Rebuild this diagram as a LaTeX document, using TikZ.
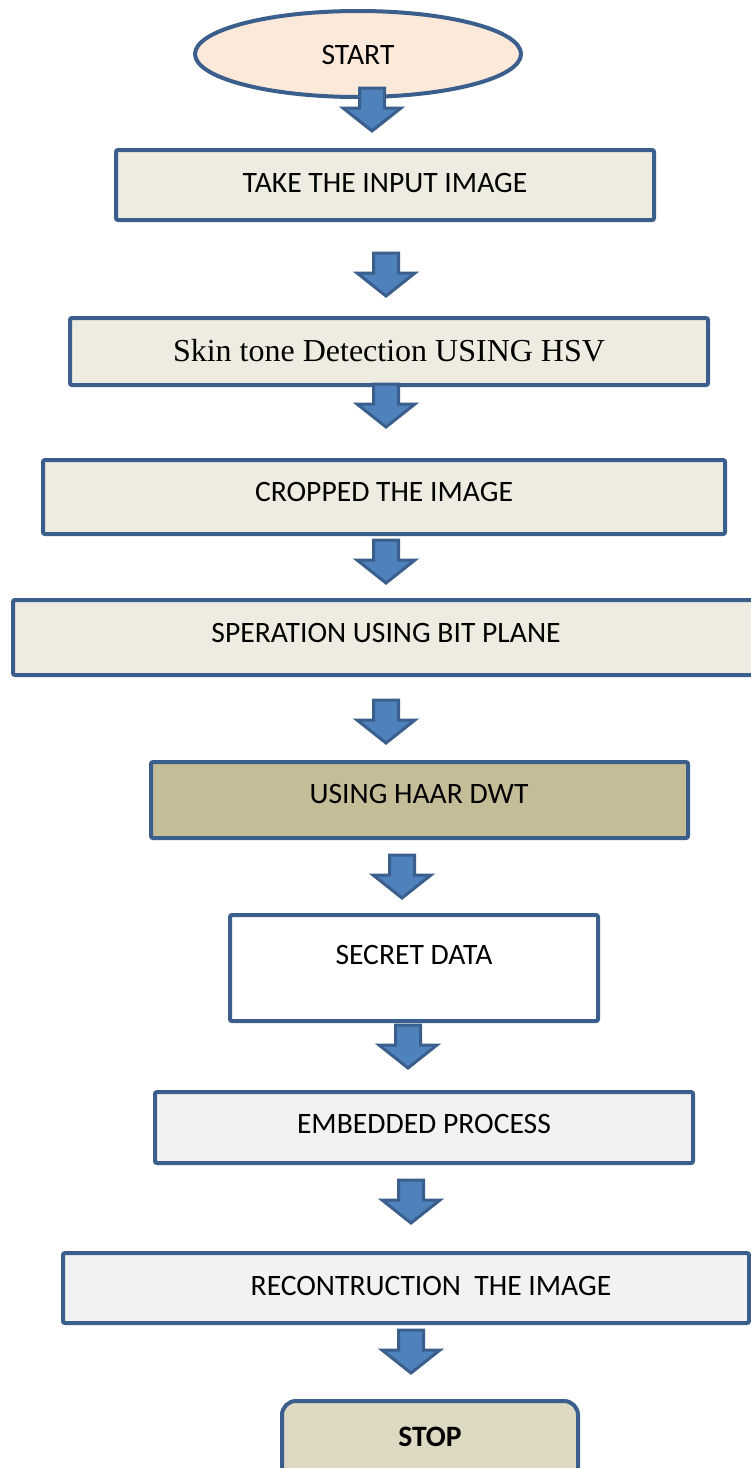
\documentclass[tikz,border=0pt]{standalone}
\usepackage{fontspec}
\setmainfont{Carlito}
\newfontfamily\timesfont{Liberation Serif}
\usetikzlibrary{shapes.geometric}

\definecolor{edgeblue}{HTML}{3A5F8C}
\definecolor{arrowblue}{HTML}{4F81BD}
\definecolor{parchment}{HTML}{EEECE1}
\definecolor{khaki}{HTML}{C4BD97}
\definecolor{lightgrey}{HTML}{F2F2F2}
\definecolor{stoptan}{HTML}{DDD9C3}
\definecolor{peach}{HTML}{FDE9D9}

\tikzset{
  stepbox/.style={draw=edgeblue, line width=4pt, rounded corners=2pt},
  steptext/.style={anchor=base, inner sep=0pt, font=\fontsize{29.6}{35}\selectfont},
  blockarrow/.pic={
    \draw[draw=edgeblue, fill=arrowblue, line width=3pt, line join=miter]
      (-12.5,0) -- (12.5,0) -- (12.5,20) -- (29,20) -- (0,43)
      -- (-29,20) -- (-12.5,20) -- cycle;
  }
}

\begin{document}
\begin{tikzpicture}[x=1pt, y=-1pt]
\useasboundingbox (0,0) rectangle (751,1468);
\clip (0,0) rectangle (751,1468);
\fill[white] (0,0) rectangle (751,1468);

% start terminal
\node[ellipse, draw=edgeblue, fill=peach, line width=4pt,
      minimum width=326pt, minimum height=86pt] (start) at (358,54) {};
\node[steptext] (starttxt) at (358,64) {START};

% process boxes
\draw[stepbox, fill=parchment] (116,150) rectangle (654,220);
\node[steptext] (take) at (385,192) {TAKE THE INPUT IMAGE};

\draw[stepbox, fill=parchment] (70,318) rectangle (708,385);
\node[steptext, font=\timesfont\fontsize{32}{38}\selectfont] (skin) at (389,361) {Skin tone Detection USING HSV};

\draw[stepbox, fill=parchment] (43,460) rectangle (725,534);
\node[steptext] (crop) at (384,501) {CROPPED THE IMAGE};

\draw[stepbox, fill=parchment] (13,600) rectangle (775,675);
\node[steptext] (bitplane) at (386,642) {SPERATION USING BIT PLANE};

\draw[stepbox, fill=khaki] (151,762) rectangle (688,838);
\node[steptext] (haar) at (419,803) {USING HAAR DWT};

\draw[stepbox, fill=white] (230,915) rectangle (598,1021);
\node[steptext] (secret) at (414,964) {SECRET DATA};

\draw[stepbox, fill=lightgrey] (155,1092) rectangle (693,1163);
\node[steptext] (embed) at (424,1133) {EMBEDDED PROCESS};

\draw[stepbox, fill=lightgrey] (63,1253) rectangle (749,1323);
\node[steptext] (recon) at (431,1295) {RECONTRUCTION\ \ THE IMAGE};

% stop terminal
\draw[draw=edgeblue, fill=stoptan, line width=4pt, rounded corners=14pt] (282,1401) rectangle (578,1500);
\node[steptext, font=\fontsize{29.6}{35}\selectfont\bfseries] (stop) at (430,1446) {STOP};

% block arrows between the steps
\pic at (372,88) {blockarrow};
\pic at (386,253) {blockarrow};
\pic at (386,384) {blockarrow};
\pic at (386,540) {blockarrow};
\pic at (386,700) {blockarrow};
\pic at (402,855) {blockarrow};
\pic at (408,1025) {blockarrow};
\pic at (411,1180) {blockarrow};
\pic at (411,1330) {blockarrow};
\end{tikzpicture}
\end{document}
